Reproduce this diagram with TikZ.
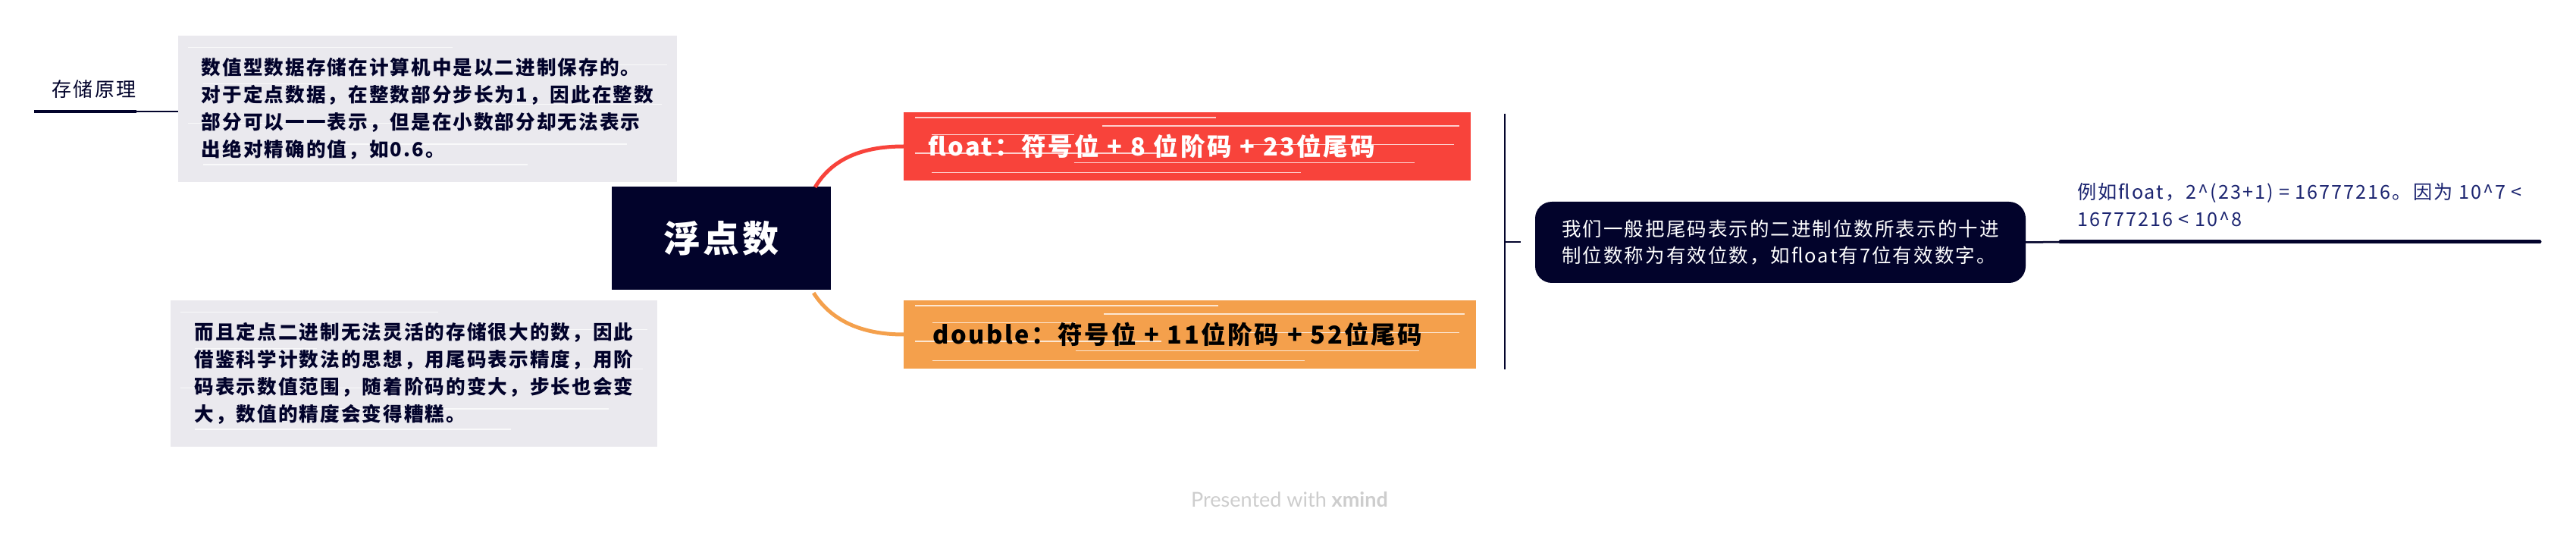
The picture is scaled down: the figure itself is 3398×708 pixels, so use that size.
\documentclass[tikz,border=0pt]{standalone}
\usepackage{fontspec}
\newfontfamily\cjk[LetterSpace=8]{Noto Sans CJK SC}
\newfontfamily\wmfont{Lato}
\usetikzlibrary{calc}
\pgfdeclarelayer{background}
\pgfsetlayers{background,main}
\definecolor{xnavy}{HTML}{02032B}
\definecolor{xred}{HTML}{F8433B}
\definecolor{xorange}{HTML}{F4A04C}
\definecolor{xgray}{HTML}{EAE9EE}
\definecolor{xblue}{HTML}{1B2470}
\definecolor{wmgray}{HTML}{CDCDCD}
\tikzset{
  notebox/.style={font=\cjk\bfseries\fontsize{25.6}{36}\selectfont, align=left, text=xnavy, inner sep=0pt},
  central/.style={font=\cjk\bfseries\fontsize{48}{48}\selectfont, fill=xnavy, text=white, inner sep=0pt},
  branch/.style={font=\cjk\bfseries\fontsize{32.5}{32.5}\selectfont, align=left, anchor=west, minimum height=90pt, inner ysep=0pt},
  summary/.style={font=\cjk\fontsize{25.5}{35}\selectfont, align=left, fill=xnavy, text=white, rounded corners=22pt, inner sep=0pt},
  example/.style={font=\cjk\fontsize{25.2}{36}\selectfont, align=left, text=xblue, inner sep=0pt, anchor=west},
  streak/.style={white, line width=1.3pt, opacity=0.75},
  bracket/.style={xnavy, line width=2.5pt},
}
\newcommand\myStreaks[1]{%
  \foreach \f/\a/\b in {0.08/0.02/0.55,0.2/0.35/0.98,0.33/0.05/0.3,0.47/0.6/0.97,0.6/0.02/0.45,0.74/0.3/0.9,0.88/0.05/0.7}{%
    \path ($(#1.north west)!\f!(#1.south west)$) coordinate (sL)
          ($(#1.north east)!\f!(#1.south east)$) coordinate (sR);
    \draw[streak] ($(sL)!\a!(sR)$) -- ($(sL)!\b!(sR)$);
  }%
}
\begin{document}
\begin{tikzpicture}[x=1pt,y=-1pt]
\useasboundingbox (0,0) rectangle (3398,708);

% left side
\node[font=\cjk\fontsize{26}{26}\selectfont, text=xnavy, inner sep=0pt] (store) at (124,118) {存储原理};
\node[notebox, minimum width=658pt, minimum height=193pt] (note1) at (564,143.5)
  {数值型数据存储在计算机中是以二进制保存的。\\对于定点数据，在整数部分步长为1，因此在整数\\部分可以一一表示，但是在小数部分却无法表示\\出绝对精确的值，如0.6。};
\node[notebox, minimum width=642pt, minimum height=193pt] (note2) at (546,492.5)
  {而且定点二进制无法灵活的存储很大的数，因此\\借鉴科学计数法的思想，用尾码表示精度，用阶\\码表示数值范围，随着阶码的变大，步长也会变\\大，数值的精度会变得糟糕。};
\coordinate (u0) at (45,147);
\coordinate (u1) at (180,147);
\draw[xnavy, line width=4pt] (u0) -- (u1);
\draw[xnavy, line width=2pt] (u1) -- (note1.west |- u1);

% central
\node[central, minimum width=289pt, minimum height=136pt] (root) at (951.5,314) {浮\hspace{4pt}点\hspace{4pt}数};

% branches
\node[branch, text=white, text width=684pt, inner xsep=32pt] (float) at (1192,193) {float：符号位 + 8 位阶码 + 23位尾码};
\node[branch, text=black, text width=679pt, inner xsep=38pt] (double) at (1192,441) {double：符号位 + 11位阶码 + 52位尾码};

\coordinate (r1) at ($(root.north east)+(-21,1)$);
\coordinate (r2) at ($(root.south east)+(-23,4)$);
\draw[xred, line width=5pt] (r1) .. controls (1100,205) and (1145,193) .. (float.west);
\draw[xorange, line width=5pt] (r2) .. controls (1100,428) and (1145,441) .. (double.west);

% bracket and summary
\coordinate (bt) at (1985,150);
\coordinate (bb) at (1985,487);
\coordinate (bm) at (1985,319);
\coordinate (btick) at (2006,319);
\draw[bracket] (bt) -- (bb);
\draw[bracket] (bm) -- (btick);
\node[summary, minimum width=647pt, minimum height=107pt] (summ) at (2348.5,319.5)
  {我们一般把尾码表示的二进制位数所表示的十进\\制位数称为有效位数，如float有7位有效数字。};

% example
\node[example] (ex) at (2740,270) {例如float，2\textasciicircum(23+1) = 16777216。因为 10\textasciicircum7 <\\16777216 < 10\textasciicircum8};
\coordinate (lk) at (2718,319);
\coordinate (lend) at (3350,319);
\draw[xnavy, line width=2.5pt] (summ.east) -- (lk);
\draw[xnavy, line width=5pt, line cap=round] (lk) -- (lend);

% watermark
\node[font=\wmfont\fontsize{27}{27}\selectfont, text=wmgray, inner sep=0pt] (wm) at (1701,659) {Presented with \textbf{xmind}};

\begin{pgfonlayer}{background}
  \fill[white] (0,0) rectangle (3398,708);
  \fill[xgray] (note1.south west) rectangle (note1.north east);
  \myStreaks{note1}
  \fill[xgray] (note2.south west) rectangle (note2.north east);
  \myStreaks{note2}
  \fill[xred] (float.south west) rectangle (float.north east);
  \myStreaks{float}
  \fill[xorange] (double.south west) rectangle (double.north east);
  \myStreaks{double}
\end{pgfonlayer}
\end{tikzpicture}
\end{document}
